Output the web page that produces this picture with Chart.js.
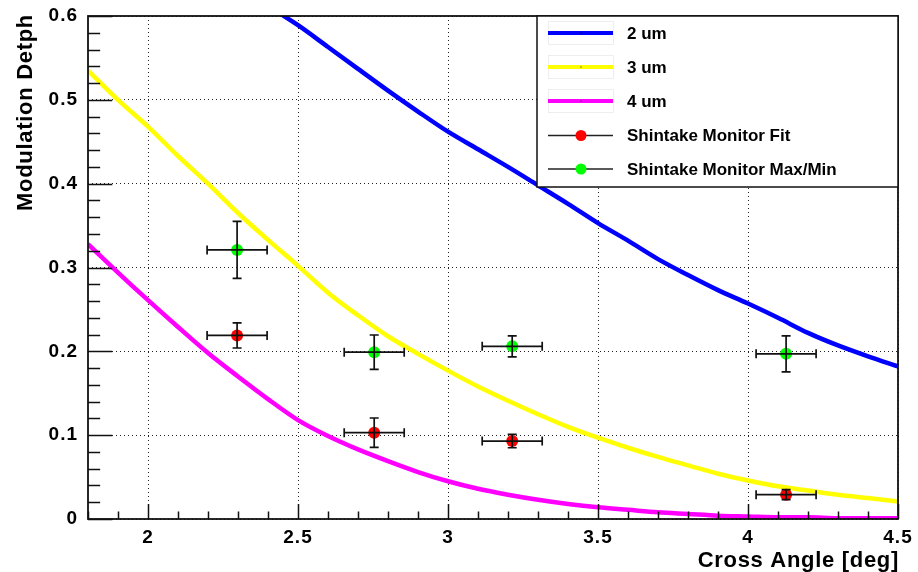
<!DOCTYPE html>
<html>
<head>
<meta charset="utf-8">
<script src="https://cdn.jsdelivr.net/npm/chart.js@4/dist/chart.umd.min.js"></script>
<style>
  html, body { margin: 0; padding: 0; background: #fff; }
  #wrap { width: 918px; height: 572px; position: relative; }
</style>
</head>
<body>
<div id="wrap"><canvas id="c" width="918" height="572"></canvas></div>
<script>
// ---- data ----
const curveX = [1.8,1.9,2.0,2.1,2.2,2.3,2.4,2.5,2.6,2.7,2.8,2.9,3.0,3.1,3.2,3.3,3.4,3.5,3.6,3.7,3.8,3.9,4.0,4.1,4.2,4.3,4.4,4.5];
const blueX = [2.4,2.5,2.6,2.7,2.8,2.9,3.0,3.1,3.2,3.3,3.4,3.5,3.6,3.7,3.8,3.9,4.0,4.1,4.2,4.3,4.4,4.5];
const depth2um = [0.612,0.589,0.563,0.537,0.511,0.486,0.462,0.441,0.420,0.398,0.376,0.353,0.332,0.310,0.291,0.273,0.257,0.240,0.222,0.207,0.194,0.182];
const depth3um = [0.535,0.500,0.468,0.433,0.400,0.365,0.333,0.302,0.270,0.243,0.218,0.197,0.177,0.158,0.141,0.125,0.110,0.097,0.085,0.074,0.064,0.054,0.046,0.039,0.034,0.029,0.025,0.021];
const depth4um = [0.328,0.294,0.261,0.229,0.198,0.170,0.143,0.118,0.099,0.083,0.069,0.056,0.045,0.036,0.029,0.023,0.018,0.014,0.011,0.008,0.006,0.004,0.003,0.002,0.002,0.001,0.001,0.001];

const measAngle = [2.297, 2.754, 3.214, 4.127];
const angleErr  = [0.10, 0.10, 0.10, 0.10];
const fitDepth  = [0.219, 0.103, 0.093, 0.029];
const fitErr    = [0.015, 0.0175, 0.008, 0.006];
const maxMinDepth = [0.321, 0.199, 0.206, 0.197];
const maxMinErr   = [0.034, 0.0205, 0.0125, 0.0215];

const xTickValues = [2, 2.5, 3, 3.5, 4, 4.5];
const yTickValues = [0, 0.1, 0.2, 0.3, 0.4, 0.5, 0.6];
const seriesNames = ['2 um', '3 um', '4 um', 'Shintake Monitor Fit', 'Shintake Monitor Max/Min'];
const xTitle = 'Cross Angle [deg]';
const yTitle = 'Modulation Detph';

// ---- styling ----
const FONT = '"Liberation Sans", Arial, Helvetica, sans-serif';
const COLORS = ['#0000ff', '#ffff00', '#ff00ff', '#ff0000', '#00ff00'];

const pts = (xs, ys) => xs.map((x, i) => ({ x: x, y: ys[i] }));

const errorBars = [
  { x: measAngle, ex: angleErr, y: fitDepth, ey: fitErr },
  { x: measAngle, ex: angleErr, y: maxMinDepth, ey: maxMinErr }
];

const rootPlugin = {
  id: 'rootStyle',
  beforeDraw(chart) {
    chart.ctx.letterSpacing = '1px';
  },
  beforeDatasetsDraw(chart) {
    chart.ctx.letterSpacing = '0px';
  },
  afterDatasetsDraw(chart) {
    const ctx = chart.ctx;
    const { left, right, top, bottom } = chart.chartArea;
    const xs = chart.scales.x, ys = chart.scales.y;
    ctx.save();
    // error bars (drawn over markers as in the reference)
    ctx.strokeStyle = '#111';
    ctx.lineWidth = 1.7;
    const cap = 4.5;
    errorBars.forEach(s => {
      s.x.forEach((xv, i) => {
        const px = xs.getPixelForValue(xv), py = ys.getPixelForValue(s.y[i]);
        const x1 = xs.getPixelForValue(xv - s.ex[i]), x2 = xs.getPixelForValue(xv + s.ex[i]);
        const y1 = ys.getPixelForValue(s.y[i] + s.ey[i]), y2 = ys.getPixelForValue(s.y[i] - s.ey[i]);
        ctx.beginPath();
        ctx.moveTo(x1, py); ctx.lineTo(x2, py);
        ctx.moveTo(x1, py - cap); ctx.lineTo(x1, py + cap);
        ctx.moveTo(x2, py - cap); ctx.lineTo(x2, py + cap);
        ctx.moveTo(px, y1); ctx.lineTo(px, y2);
        ctx.moveTo(px - cap, y1); ctx.lineTo(px + cap, y1);
        ctx.moveTo(px - cap, y2); ctx.lineTo(px + cap, y2);
        ctx.stroke();
      });
    });
    // frame
    ctx.strokeStyle = '#111';
    ctx.lineWidth = 1.8;
    ctx.strokeRect(left, top, right - left, bottom - top);
    // ticks (inside, ROOT style)
    ctx.lineWidth = 1.5;
    ctx.beginPath();
    const yLenMajor = (right - left) * 0.03, xLenMajor = (bottom - top) * 0.03;
    for (let k = 0; k <= 30; k++) {
      const v = k * 0.02;
      const py = Math.round(ys.getPixelForValue(v)) + 0.5;
      const len = (k % 5 === 0) ? yLenMajor : yLenMajor / 2;
      ctx.moveTo(left, py); ctx.lineTo(left + len, py);
    }
    for (let k = 18; k <= 45; k++) {
      const v = k * 0.1;
      const px = Math.round(xs.getPixelForValue(v)) + 0.5;
      const len = (k % 5 === 0) ? xLenMajor : xLenMajor / 2;
      ctx.moveTo(px, bottom); ctx.lineTo(px, bottom - len);
    }
    ctx.stroke();
    ctx.restore();
  },
  afterDraw(chart) {
    const ctx = chart.ctx;
    const { right, top } = chart.chartArea;
    ctx.save();
    // legend box
    const L = 537, T = top, R = right, B = 187;
    ctx.fillStyle = '#fff';
    ctx.fillRect(L, T, R - L, B - T);
    ctx.strokeStyle = '#111';
    ctx.lineWidth = 1.5;
    ctx.strokeRect(L, T, R - L, B - T);
    const rowY = [33, 67, 101, 135.5, 169];
    const sx1 = 548, sx2 = 613, sxc = 581;
    seriesNames.forEach((name, i) => {
      const yy = rowY[i];
      if (i < 3) {
        ctx.strokeStyle = '#eeeeee';
        ctx.lineWidth = 1;
        ctx.strokeRect(sx1 + 0.5, yy - 11.5, sx2 - sx1, 23);
        ctx.strokeStyle = COLORS[i];
        ctx.lineWidth = 4;
        ctx.beginPath(); ctx.moveTo(sx1, yy); ctx.lineTo(sx2, yy); ctx.stroke();
        ctx.fillStyle = '#000';
        ctx.fillRect(sxc - 0.5, yy - 0.5, 1, 1);
      } else {
        ctx.strokeStyle = '#222';
        ctx.lineWidth = 1.5;
        ctx.beginPath(); ctx.moveTo(sx1, yy); ctx.lineTo(sx2, yy); ctx.stroke();
        ctx.fillStyle = COLORS[i];
        ctx.beginPath(); ctx.arc(sxc, yy, 5.5, 0, Math.PI * 2); ctx.fill();
      }
      ctx.fillStyle = '#000';
      ctx.font = 'bold 17px ' + FONT;
      ctx.letterSpacing = '0px';
      ctx.textAlign = 'left';
      ctx.textBaseline = 'middle';
      ctx.fillText(name, 627, yy + 1);
    });
    // axis titles
    ctx.fillStyle = '#000';
    ctx.font = 'bold 22px ' + FONT;
    ctx.letterSpacing = '0.7px';
    ctx.textAlign = 'right';
    ctx.textBaseline = 'alphabetic';
    ctx.fillText(xTitle, 899, 567);
    ctx.translate(32, 14);
    ctx.rotate(-Math.PI / 2);
    ctx.fillText(yTitle, 0, 0);
    ctx.restore();
    ctx.letterSpacing = '0px';
  }
};

const tickFont = { family: FONT, size: 19, weight: 'bold' };

new Chart(document.getElementById('c'), {
  type: 'scatter',
  data: {
    datasets: [
      { label: seriesNames[0], data: pts(blueX, depth2um), showLine: true, borderColor: COLORS[0], borderWidth: 4.5, pointRadius: 0, cubicInterpolationMode: 'monotone', order: 1 },
      { label: seriesNames[1], data: pts(curveX, depth3um), showLine: true, borderColor: COLORS[1], borderWidth: 4.5, pointRadius: 0, cubicInterpolationMode: 'monotone', order: 1 },
      { label: seriesNames[2], data: pts(curveX, depth4um), showLine: true, borderColor: COLORS[2], borderWidth: 4.5, pointRadius: 0, cubicInterpolationMode: 'monotone', order: 1 },
      { label: seriesNames[3], data: pts(measAngle, fitDepth), showLine: false, pointRadius: 6, pointBackgroundColor: COLORS[3], pointBorderWidth: 0, order: 0 },
      { label: seriesNames[4], data: pts(measAngle, maxMinDepth), showLine: false, pointRadius: 6, pointBackgroundColor: COLORS[4], pointBorderWidth: 0, order: 0 }
    ]
  },
  options: {
    responsive: false,
    animation: false,
    events: [],
    layout: { padding: { left: 0, right: 20, top: 16, bottom: 0 } },
    plugins: { legend: { display: false }, tooltip: { enabled: false } },
    scales: {
      x: {
        type: 'linear', min: 1.8, max: 4.5,
        afterBuildTicks: s => { s.ticks = xTickValues.map(v => ({ value: v })); },
        afterFit: s => { s.height = 53; s.paddingLeft = 0; s.paddingRight = 0; },
        grid: { color: '#222', lineWidth: 1, drawTicks: false },
        border: { display: false, dash: [1, 3] },
        ticks: { font: tickFont, color: '#000', padding: 7, maxRotation: 0, autoSkip: false, callback: v => String(v) }
      },
      y: {
        type: 'linear', min: 0, max: 0.6,
        afterBuildTicks: s => { s.ticks = yTickValues.map(v => ({ value: v })); },
        afterFit: s => { s.width = 88; s.paddingTop = 0; s.paddingBottom = 0; },
        grid: { color: '#222', lineWidth: 1, drawTicks: false },
        border: { display: false, dash: [1, 3] },
        ticks: { font: tickFont, color: '#000', padding: 10, autoSkip: false, callback: v => String(v) }
      }
    }
  },
  plugins: [rootPlugin]
});
</script>
</body>
</html>
